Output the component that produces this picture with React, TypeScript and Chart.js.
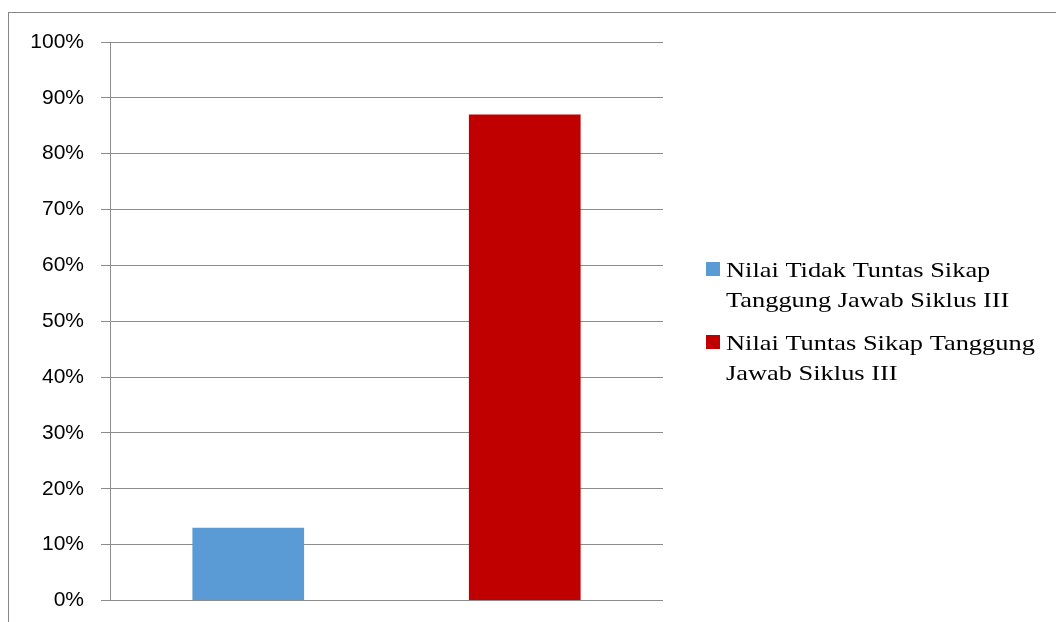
import React, { useEffect, useRef } from "react";
import { Chart, registerables } from "chart.js";

Chart.register(...registerables);

const categories = ["Tidak Tuntas", "Tuntas"];
const seriesLabels = [
  "Nilai Tidak Tuntas Sikap Tanggung Jawab Siklus III",
  "Nilai Tuntas Sikap Tanggung Jawab Siklus III",
];
const legendLines = [
  ["Nilai Tidak Tuntas Sikap", "Tanggung Jawab Siklus III"],
  ["Nilai Tuntas Sikap Tanggung", "Jawab Siklus III"],
];
const tidakTuntasValues = [13, null];
const tuntasValues = [null, 87];
const seriesColors = ["#5B9BD5", "#C00000"];
const yMin = 0;
const yMax = 100;
const yStep = 10;

const legendPlugin = {
  id: "sideLegend",
  afterDraw(chart: any) {
    const ctx = chart.ctx;
    const area = chart.chartArea;
    const x0 = area.right + 43;
    const baselines = [
      [277, 306.5],
      [350, 379.5],
    ];
    ctx.save();
    ctx.font = "22px 'Liberation Serif', 'Times New Roman', serif";
    ctx.textBaseline = "alphabetic";
    ctx.textAlign = "left";
    chart.data.datasets.forEach((ds: any, i: number) => {
      const lines = legendLines[i];
      const b = baselines[i];
      ctx.fillStyle = ds.backgroundColor;
      ctx.fillRect(x0, b[0] - 15, 14, 14);
      ctx.fillStyle = "#000000";
      lines.forEach((ln: string, j: number) => {
        ctx.save();
        ctx.translate(x0 + 20, b[j]);
        ctx.scale(1.2, 1);
        ctx.fillText(ln, 0, 0);
        ctx.restore();
      });
    });
    ctx.restore();
  },
};

export default function App() {
  const canvasRef = useRef<HTMLCanvasElement | null>(null);

  useEffect(() => {
    if (!canvasRef.current) return;
    const chart = new Chart(canvasRef.current, {
      type: "bar",
      data: {
        labels: categories,
        datasets: [
          {
            label: seriesLabels[0],
            data: tidakTuntasValues,
            backgroundColor: seriesColors[0],
            borderWidth: 0,
          },
          {
            label: seriesLabels[1],
            data: tuntasValues,
            backgroundColor: seriesColors[1],
            borderWidth: 0,
          },
        ],
      },
      options: {
        responsive: false,
        animation: false,
        skipNull: true,
        layout: { padding: { left: 10, right: 393, top: 42, bottom: 14 } },
        datasets: {
          bar: { categoryPercentage: 1, barPercentage: 0.404 },
        },
        plugins: {
          legend: { display: false },
          tooltip: { enabled: false },
        },
        scales: {
          x: {
            display: false,
            grid: { display: false },
          },
          y: {
            min: yMin,
            max: yMax,
            afterFit: (axis: any) => {
              axis.width = 100;
            },
            ticks: {
              stepSize: yStep,
              padding: 17,
              color: "#000000",
              font: { family: "'Liberation Sans', Arial, sans-serif", size: 21 },
              callback: (v: any) => v + "%",
            },
            grid: {
              color: "#8c8c8c",
              lineWidth: 1,
              tickLength: 9,
              drawTicks: true,
            },
            border: { display: true, color: "#8c8c8c", width: 1 },
          },
        },
      } as any,
      plugins: [legendPlugin],
    });
    return () => chart.destroy();
  }, []);

  return (
    <div style={{ position: "fixed", left: 0, top: 0, width: 1056, height: 622, overflow: "hidden", background: "#ffffff" }}>
      <canvas ref={canvasRef} width={1056} height={630} style={{ position: "absolute", left: 0, top: 0, width: 1056, height: 630 }} />
      <div
        style={{
          position: "absolute",
          left: 8,
          top: 12,
          width: 2000,
          height: 2000,
          borderTop: "1px solid #868686",
          borderLeft: "1px solid #868686",
          pointerEvents: "none",
        }}
      />
    </div>
  );
}
